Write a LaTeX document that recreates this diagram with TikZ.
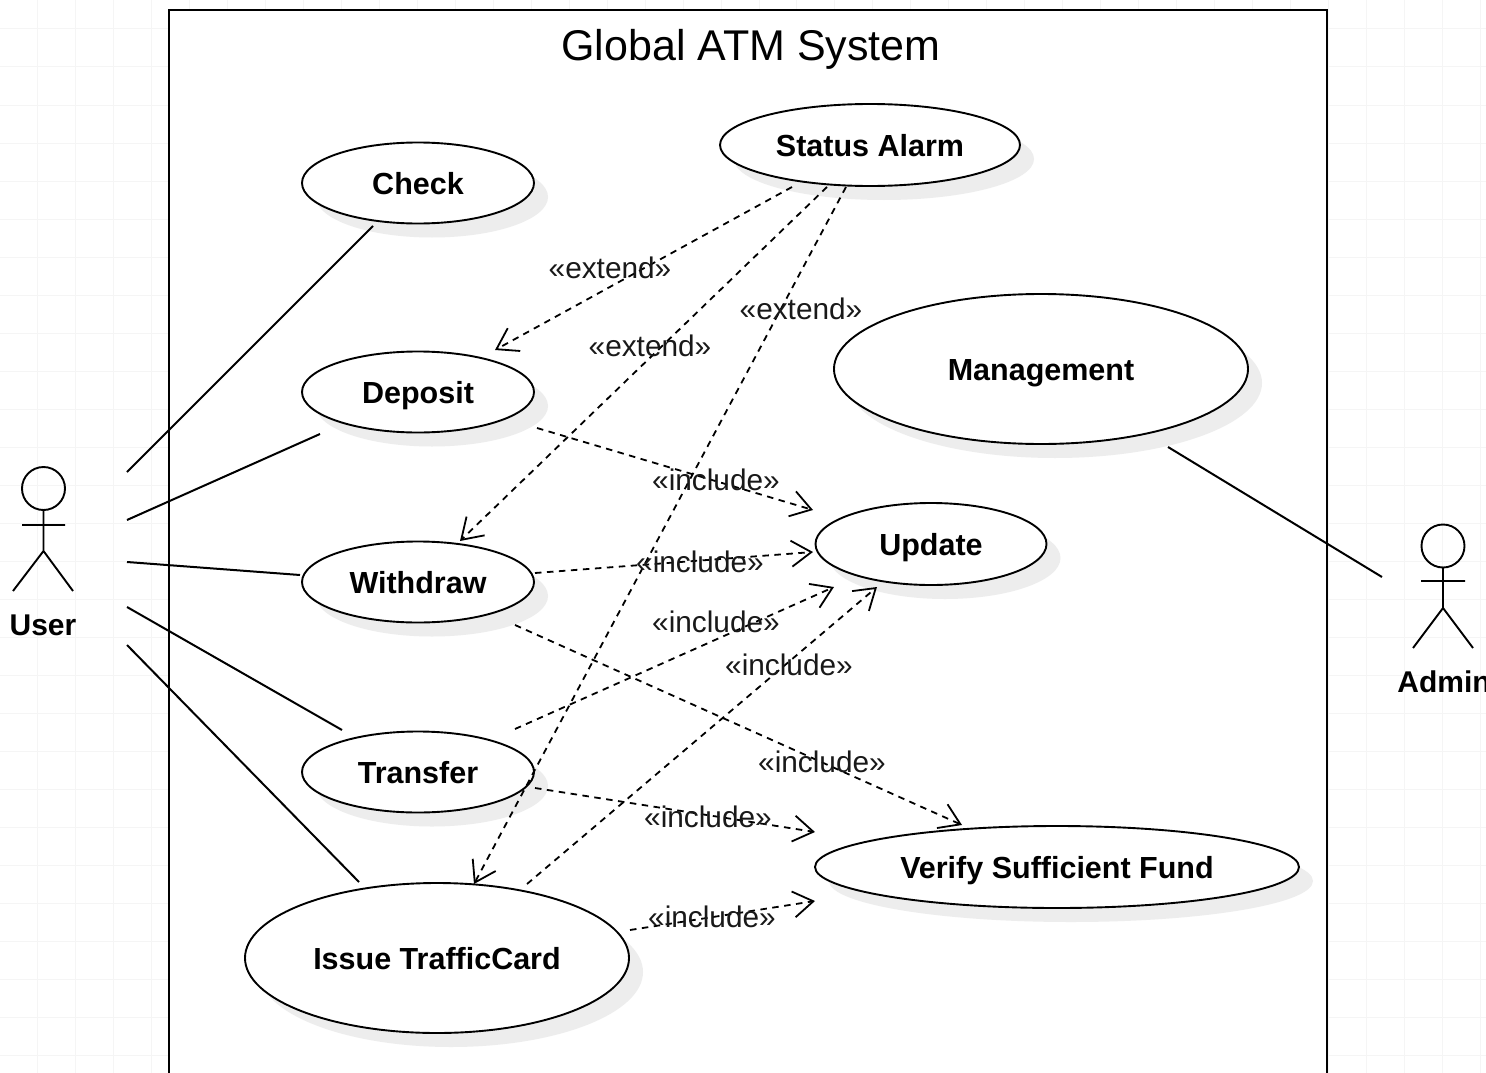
\documentclass[tikz,border=0pt]{standalone}
\usepackage{fontspec}
\setmainfont{Liberation Sans}
\usetikzlibrary{shapes.geometric,arrows.meta,shadows}
\definecolor{gridc}{HTML}{F5F5F5}
\tikzset{
  uc/.style={ellipse,draw=black,fill=white,line width=1.9pt,inner sep=0pt,outer sep=0pt,
    font=\fontsize{30.5}{36}\selectfont\bfseries,text height=22pt,text depth=0pt,
    drop shadow={shadow xshift=14pt,shadow yshift=-14pt,fill=black!7,opacity=1}},
  head/.style={circle,draw=black,line width=1.9pt,minimum size=43pt,inner sep=0pt,outer sep=0pt},
  limb/.style={draw=black,line width=1.9pt},
  assoc/.style={draw=black,line width=2pt},
  dep/.style={draw=black,line width=1.8pt,dash pattern=on 6.5pt off 5.5pt,
    -{Straight Barb[length=20pt,width=26pt,line width=1.8pt]}},
  lbl/.style={font=\fontsize{29.8}{34}\selectfont,inner sep=0pt,text=black!90},
  actor/.style={font=\fontsize{30}{34}\selectfont\bfseries,inner sep=0pt,text height=22pt,text depth=0pt},
  gridline/.style={draw=gridc,line width=1pt}
}
\begin{document}
\begin{tikzpicture}[x=1pt,y=-1pt]
\useasboundingbox (0,0) rectangle (1486,1073);
\fill[white] (0,0) rectangle (1486,1073);
\foreach \k in {1,...,39} {\draw[gridline] ({37.95*\k},0) -- ({37.95*\k},1073);}
\foreach \k in {0,...,27} {\draw[gridline] (0,{29+38*\k}) -- (1486,{29+38*\k});}
% system boundary
\draw[fill=white,draw=black,line width=1.9pt] (169,1090) -- (169,10) -- (1327,10) -- (1327,1090);
\node[inner sep=0pt,font=\fontsize{43}{50}\selectfont,text height=31pt,text depth=0pt] (title) at (751,45) {Global ATM System};
% use cases
\node[uc,minimum width=232pt,minimum height=81pt] (check) at (418,183) {Check};
\node[uc,minimum width=232pt,minimum height=81pt] (deposit) at (418,392) {Deposit};
\node[uc,minimum width=232pt,minimum height=81pt] (withdraw) at (418,582) {Withdraw};
\node[uc,minimum width=232pt,minimum height=81pt] (transfer) at (418,772) {Transfer};
\node[uc,minimum width=384pt,minimum height=150pt] (issue) at (437,958) {Issue TrafficCard};
\node[uc,minimum width=300pt,minimum height=82pt] (status) at (870,145) {Status Alarm};
\node[uc,minimum width=414pt,minimum height=150pt] (management) at (1041,369) {Management};
\node[uc,minimum width=231pt,minimum height=82pt] (update) at (931,544) {Update};
\node[uc,minimum width=484pt,minimum height=82pt] (verify) at (1057,867) {Verify Sufficient Fund};
% actors
\node[head] (user) at (43.5,488.5) {};
\draw[limb] (user.south) -- (43.5,551) (22,525) -- (65,525) (13,591) -- (43.5,551) -- (73,591);
\node[actor] (userlabel) at (43,624) {User};
\node[head] (admin) at (1443,546) {};
\draw[limb] (admin.south) -- (1443,608) (1421,581) -- (1465,581) (1413,648) -- (1443,608) -- (1473,648);
\node[actor] (adminlabel) at (1444,681) {Admin};
% associations
\draw[assoc] ([shift={(83.5,-16.5)}]user.center) -- ([shift={(-45,43)}]check.center);
\draw[assoc] ([shift={(83.5,31.5)}]user.center) -- ([shift={(-98,42)}]deposit.center);
\draw[assoc] ([shift={(83.5,73.5)}]user.center) -- ([shift={(-118,-7)}]withdraw.center);
\draw[assoc] ([shift={(83.5,118.5)}]user.center) -- ([shift={(-76,-42)}]transfer.center);
\draw[assoc] ([shift={(83.5,156.5)}]user.center) -- ([shift={(-78,-76)}]issue.center);
\draw[assoc] ([shift={(-61,31)}]admin.center) -- ([shift={(127,78)}]management.center);
% dependencies
\draw[dep] ([shift={(-78,42)}]status.center) -- ([shift={(77,-42)}]deposit.center);
\draw[dep] ([shift={(-43,42)}]status.center) -- ([shift={(42,-41)}]withdraw.center);
\draw[dep] ([shift={(-24,42)}]status.center) -- ([shift={(37,-74)}]issue.center);
\draw[dep] ([shift={(119,36)}]deposit.center) -- ([shift={(-118,-34)}]update.center);
\draw[dep] ([shift={(117,-9)}]withdraw.center) -- ([shift={(-118,8)}]update.center);
\draw[dep] ([shift={(97,-43)}]transfer.center) -- ([shift={(-97,43)}]update.center);
\draw[dep] ([shift={(90,-74)}]issue.center) -- ([shift={(-54,43)}]update.center);
\draw[dep] ([shift={(97,43)}]withdraw.center) -- ([shift={(-95,-42)}]verify.center);
\draw[dep] ([shift={(117,16)}]transfer.center) -- ([shift={(-242,-35)}]verify.center);
\draw[dep] ([shift={(193,-28)}]issue.center) -- ([shift={(-242,34)}]verify.center);
% labels
\node[lbl] (l1) at (610,268) {«extend»};
\node[lbl] (l2) at (650,346) {«extend»};
\node[lbl] (l3) at (801,309) {«extend»};
\node[lbl] (l4) at (716,480) {«include»};
\node[lbl] (l5) at (700,562) {«include»};
\node[lbl] (l6) at (716,622) {«include»};
\node[lbl] (l7) at (789,665) {«include»};
\node[lbl] (l8) at (822,762) {«include»};
\node[lbl] (l9) at (708,817) {«include»};
\node[lbl] (l10) at (712,917) {«include»};
\end{tikzpicture}
\end{document}
